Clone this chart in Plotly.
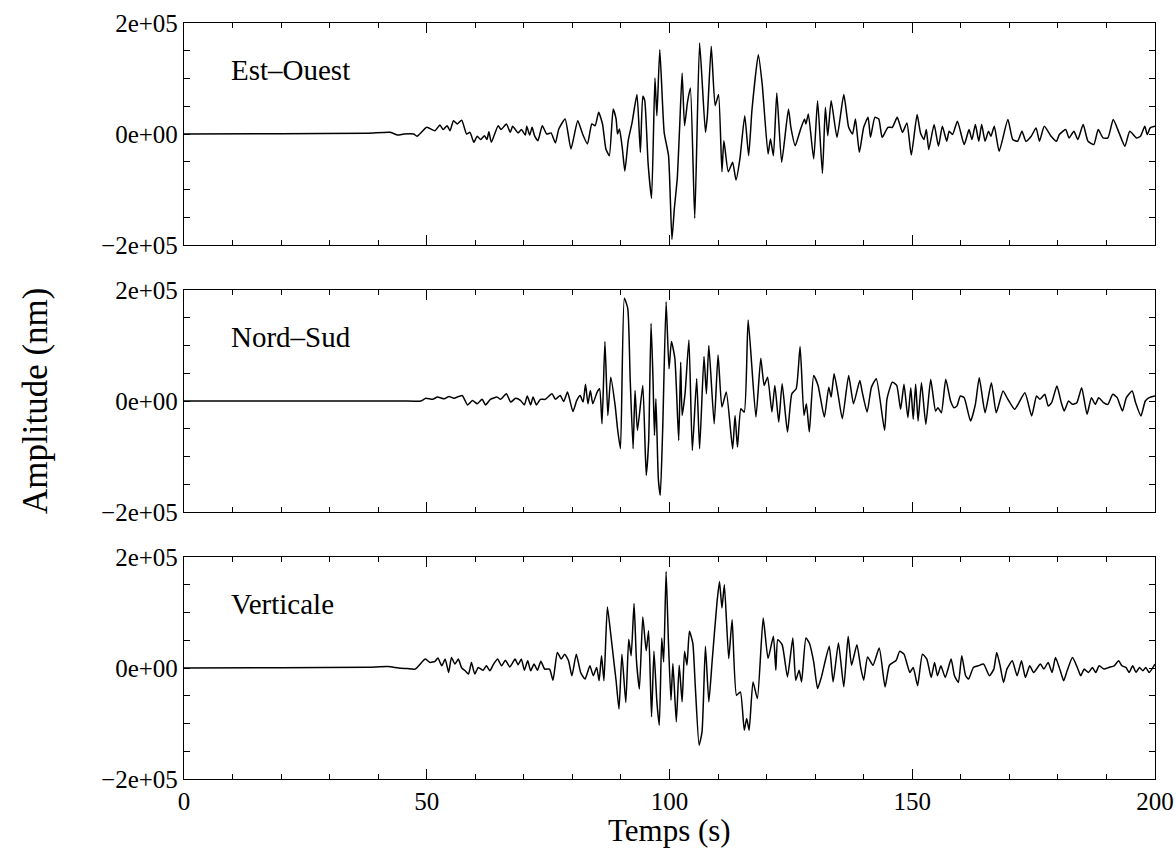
import plotly.graph_objects as go
from plotly.subplots import make_subplots

# ---------------- data (time in s, amplitude in thousands of nm) ----------------
eo_t = [0, 20, 38, 42.5, 44, 45.3, 47.3, 48, 50, 51.7, 52.7, 53.4, 54.2, 54.8, 55.5, 56.3, 57.2, 58.2, 58.9, 59.7,
        60.4, 61.1, 61.9, 62.4, 62.8, 63.3, 64.7, 65.3, 66.4, 67.2, 67.7, 68.8, 69.5, 70.3, 70.6, 71.2, 71.7, 72.2,
        72.9, 73.8, 74.7, 75.6, 76.5, 77.2, 78.5, 79.7, 81.1, 82.1, 83.1, 84.0, 84.7, 85.4, 86.2, 86.9, 87.6, 88.4,
        89.0, 89.3, 89.7, 90.3, 90.8, 91.5, 92.3, 93.3, 94.0, 94.5, 94.9, 95.6, 96.3, 97.0, 97.4, 98.0, 98.9, 99.8,
        100.5, 101.0, 101.6, 102.1, 102.6, 103.1, 103.7, 104.3, 105.2, 106.2, 107.4, 107.8, 108.6, 109.4, 110.1,
        110.8, 111.2, 112.1, 113.0, 113.7, 114.5, 115.5, 116.3, 117.0, 118.3, 119.1, 120.3, 120.8, 121.4, 122.1,
        123.1, 124.5, 125.0, 125.9, 126.9, 127.8, 128.1, 128.6, 129.7, 130.5, 131.5, 132.1, 132.6, 133.3, 134.5,
        135.9, 136.9, 137.7, 138.3, 139.1, 140.0, 140.9, 141.4, 142.3, 143.1, 143.8, 145.0, 145.9, 146.9, 148.0,
        148.9, 149.8, 151.0, 151.7, 152.4, 152.9, 153.4, 154.5, 155.4, 156.2, 157.1, 157.6, 158.3, 159.3, 160.7,
        161.7, 162.3, 163.0, 163.7, 164.3, 165.0, 165.7, 166.2, 166.9, 167.9, 169.7, 170.7, 171.7, 172.6, 173.4,
        174.5, 175.5, 176.2, 177.2, 178.6, 179.7, 180.3, 181.6, 182.3, 183.3, 184.1, 185.2, 186.2, 187.4, 188.3,
        189.3, 190.3, 191.4, 192.6, 193.8, 194.8, 196.2, 197.0, 197.9, 198.4, 199.0, 200]
eo_v = [0, 0.5, 1.5, 3, -2, 0, 0, -4, 12, 6, 16, 8, 15, 6, 24, 18, 25, 0, 3, -15,
        -4, -10, -3, -10, 4, -15, 15, 8, 18, 3, 14, 2, 8, -2, 14, -2, 12, -3,
        -12, 15, 0, 2, -16, 9, 27, -27, 24, 0, -18, 18, 15, 39, 18, -27, -39, 45,
        27, 0, 9, -27, -67, -12, 21, 71, -33, 68, 60, -54, -116, 101, 33, 152, 3, -39,
        -190, -134, -80, 15, 110, 15, 57, 83, -152, 164, 3, 33, 158, 51, 71,
        -68, -12, -68, -51, -83, -45, 33, -39, 45, 143, 89, -36, -9, -39, 74,
        -51, 45, 12, -21, 6, 27, 18, 36, -45, 60, -71, 48, -3, 60, -6,
        71, 12, 0, 27, -33, 12, 30, -6, 30, 27, -6, 12, 12, 30, 3,
        20, -38, 35, 2, -10, 8, -28, 17, -22, 14, -13, 5, -1, 23, -19,
        8, -10, 17, -13, 17, -13, 5, -4, 14, -31, 26, -10, -13, 5, -13,
        -4, 11, -13, 14, -4, -13, -1, 8, -7, 5, -10, 17, -13, -19, 8,
        -7, -7, 26, 2, -22, 5, -7, -4, 14, -1, 11, 14]

ns_t = [0, 30, 44.7, 48.8, 49.8, 51.2, 52.2, 53.6, 54.6, 55.6, 57.3, 58.4, 59.4, 60.4, 61.4, 62.1, 63.1, 64.5,
        65.2, 66.4, 67.3, 68.3, 69.3, 70.1, 70.7, 71.4, 71.9, 72.6, 73.4, 74.4, 75.8, 76.5, 77.5, 78.2, 79.0,
        80.1, 80.9, 81.6, 82.2, 82.7, 83.2, 83.7, 84.2, 85.1, 85.6, 86.1, 86.7, 87.3, 87.9, 88.8, 89.3, 89.9,
        90.7, 91.4, 91.9, 92.5, 92.9, 93.4, 94.5, 95.2, 95.7, 96.2, 96.6, 96.9, 97.2, 97.7, 98.1, 98.6, 99.3,
        99.9, 100.4, 101.1, 101.9, 102.3, 102.6, 103.2, 104.0, 104.7, 105.6, 106.2, 107.1, 107.6, 108.1, 109.2,
        110.0, 110.8, 111.7, 113.0, 113.5, 114.0, 114.7, 115.4, 116.2, 117.8, 118.8, 119.5, 120.2, 121.1, 121.7,
        122.5, 123.2, 124.3, 125.2, 126.1, 126.9, 127.7, 128.2, 128.8, 129.7, 130.6, 131.9, 132.8, 133.3, 133.9,
        134.7, 135.6, 136.9, 137.9, 139.2, 139.7, 140.7, 141.6, 142.6, 144.3, 144.8, 145.9, 146.8, 147.6, 148.3,
        149.1, 149.7, 150.2, 150.7, 151.2, 151.9, 152.8, 153.8, 154.8, 155.3, 156.0, 156.9, 157.9, 158.6, 159.2,
        159.9, 160.7, 162.0, 163.0, 163.8, 165.0, 166.3, 167.3, 168.7, 169.7, 171.1, 173.2, 174.6, 175.6, 176.3,
        177.3, 178.0, 178.7, 179.8, 180.7, 181.3, 182.2, 183.0, 183.9, 184.9, 186.0, 186.9, 187.7, 188.4, 189.4,
        190.3, 191.3, 192.2, 193.3, 194.1, 195.3, 196.0, 197.1, 198.0, 198.8, 200]
ns_v = [0, 0, 0, 0, 5, 3, 7, 4, 8, 5, 10, -7, 1, -5, 3, -7, 3, 7,
        3, 13, -2, 5, 1, -7, 9, -7, 7, -7, 3, 3, 13, 3, 10, -1, 16,
        -19, 1, 10, -2, 30, -5, 19, -5, 16, 22, -41, 107, -26, 43, -8, -50, -86,
        185, 167, 40, -86, 19, -53, 28, -134, -74, 140, 40, -62, 4, -140, -170, -50, 179,
        58, 107, 77, -71, 70, -26, 13, 110, -89, 40, -86, 80, 13, 100, -41,
        83, -11, 16, -86, -26, -83, -14, -20, 146, -29, 77, 28, 43, -20, 28,
        -38, 31, -56, 13, 22, 98, -26, -5, -56, 46, 28, -29, 25, 7, 49,
        13, -32, 46, -5, 37, 16, -20, 25, 40, -53, 4, 34, 28, -15, 30,
        -30, 24, -33, 30, -36, 33, -42, 39, -18, -12, -21, 39, 0, -12, -9,
        9, 6, -36, -6, 42, -21, 33, -21, 18, 3, -15, 15, -27, 9, 3,
        12, -9, -3, 27, -3, -18, 0, -6, -3, 24, -24, 6, -6, 6, -3,
        -6, 12, 6, -18, 6, 18, -3, -27, 0, 6, 9]

ve_t = [0, 20, 38, 42, 44.2, 46, 47.6, 49.7, 50.7, 51.7, 52.3, 53.1, 53.8, 54.5, 55.1, 55.8, 56.5, 57.2, 57.9,
        58.6, 59.2, 59.9, 60.6, 61.6, 62.3, 63.0, 63.7, 64.6, 65.4, 66.2, 67.1, 68.2, 68.8, 69.5, 70.1, 70.8,
        71.4, 72.1, 72.8, 73.5, 74.3, 75.3, 76.0, 76.9, 77.7, 78.4, 79.2, 79.9, 80.8, 81.7, 82.6, 83.6, 84.3,
        85.0, 85.5, 86.0, 86.5, 87.2, 87.9, 88.6, 89.0, 89.6, 90.2, 91.0, 91.6, 92.1, 92.7, 93.2, 93.8, 94.5,
        95.2, 95.7, 96.3, 96.8, 97.4, 97.9, 98.4, 98.8, 99.3, 99.8, 100.3, 100.7, 101.4, 102.0, 102.6, 103.1,
        103.6, 104.1, 104.8, 105.3, 106.1, 106.7, 107.4, 108.1, 108.8, 109.8, 110.3, 110.8, 111.3, 112.2, 112.9,
        113.8, 114.6, 115.4, 115.9, 116.4, 117.2, 118.1, 119.3, 120.3, 121.4, 121.9, 122.3, 123.2, 124.3, 125.4,
        126.0, 126.7, 127.2, 128.1, 128.8, 129.7, 130.5, 131.3, 132.9, 133.7, 134.8, 135.9, 136.8, 137.5, 138.6,
        139.4, 140.0, 140.8, 141.9, 143.2, 144.4, 145.3, 146.7, 147.4, 148.3, 149.0, 149.5, 150.2, 151.1, 152.1,
        153.0, 153.9, 154.6, 155.2, 155.9, 156.8, 158.0, 158.7, 159.5, 160.2, 161.0, 161.6, 162.6, 163.6, 164.7,
        165.9, 166.8, 167.4, 168.1, 168.8, 169.5, 170.6, 171.6, 172.5, 173.3, 174.2, 175.0, 176.4, 177.1, 178.0,
        178.8, 179.5, 180.5, 181.2, 181.9, 183.0, 184.0, 184.7, 185.4, 186.3, 187.1, 187.8, 188.5, 189.5, 190.5,
        191.6, 192.5, 193.2, 194.0, 194.7, 195.4, 196.1, 196.8, 197.5, 198.1, 198.8, 200]
ve_v = [0, 0.5, 1.5, 2.5, 0, -1, -2, 16, 10, 12, 18, 4, 16, -8, 19, 7, 16, 0, -5,
        -11, 10, -11, 1, -4, 4, -5, 6, 16, 4, 14, 2, 16, 6, 16, -4, 13,
        -5, 7, -4, 12, -2, -2, -22, 28, 16, 25, 13, -14, 25, -8, -20, 4, -14,
        1, -23, 22, -23, 110, 61, 7, -23, -74, 25, -62, 52, 22, 116, 13, -38, 92,
        31, 67, -88, 30, -61, -103, 54, 11, 174, 42, -58, 8, -97, 5, -61, 30,
        5, 66, 45, -31, -139, -115, 39, -61, 14, 120, 156, 108, 150, 17, 87,
        -49, -43, -112, -91, -112, -25, -55, 90, 17, 57, -4, 51, 42, -16, 54,
        -22, -4, -25, 54, 45, 11, -37, -16, 39, -25, 45, -34, 57, 5, 42,
        0, -22, 20, 5, 36, -34, 5, 14, 30, 25, 5, -8, 1, -32, 25,
        16, -17, 10, -14, 4, -17, 16, -14, -26, 22, -14, -20, 1, 4, 7,
        -14, -2, 28, 4, -26, -2, 13, -14, 13, -17, 4, -8, 7, -2, 10,
        -8, 19, -5, -23, -5, 19, 1, -14, -2, -8, 1, -8, 4, -2, 1,
        4, 13, 4, 1, -8, 4, -8, 1, -5, 1, -8, 7]

components = ["Est–Ouest", "Nord–Sud", "Verticale"]
series_t = [eo_t, ns_t, ve_t]
series_v = [eo_v, ns_v, ve_v]

x_major_ticks = [0, 50, 100, 150, 200]
y_tick_vals = [-200000, -150000, -100000, -50000, 0, 50000, 100000, 150000, 200000]
y_tick_text = ["−2e+05", "", "", "", "0e+00", "", "", "", "2e+05"]

# ---------------- figure ----------------
FONT = "Liberation Serif, Times New Roman, serif"
W, H = 1176, 850
L, R, T, B = 184, 21, 23, 71
plot_h = H - T - B
panel_px = [(23, 245), (290, 512), (557, 779)]  # top, bottom in pixels

fig = make_subplots(rows=3, cols=1, shared_xaxes=False)

for i, (t, v) in enumerate(zip(series_t, series_v)):
    fig.add_trace(go.Scatter(x=t, y=[a * 1000 for a in v], mode="lines",
                             line=dict(color="black", width=1.5, shape="spline", smoothing=0.5),
                             showlegend=False, hoverinfo="skip"), row=i + 1, col=1)

for i in range(3):
    top, bot = panel_px[i]
    d0 = (H - B - bot) / plot_h
    d1 = (H - B - top) / plot_h
    yname = "yaxis" if i == 0 else f"yaxis{i + 1}"
    xname = "xaxis" if i == 0 else f"xaxis{i + 1}"
    fig.layout[yname].update(
        domain=[d0, d1], range=[-200000, 200000], tickmode="array", automargin=False,
        tickvals=y_tick_vals, ticktext=y_tick_text, ticks="inside", ticklen=6,
        tickcolor="black", tickwidth=1, showline=True, linecolor="black", linewidth=1.3,
        mirror="allticks", showgrid=False, zeroline=False,
        tickfont=dict(family=FONT, size=25, color="black"))
    fig.layout[xname].update(
        range=[0, 200], tickmode="array", tickvals=x_major_ticks, ticks="inside", ticklen=10,
        automargin=False,
        tickcolor="black", tickwidth=1, showline=True, linecolor="black", linewidth=1.3,
        mirror="allticks", showgrid=False, zeroline=False, showticklabels=(i == 2),
        minor=dict(tickmode="linear", tick0=0, dtick=10, ticks="inside", ticklen=5,
                   tickcolor="black", tickwidth=1, showgrid=False),
        tickfont=dict(family=FONT, size=25, color="black"))
    fig.add_annotation(x=9.3, y=115000, xref=f"x{i + 1}" if i else "x", yref=f"y{i + 1}" if i else "y",
                       text=components[i], showarrow=False, xanchor="left", yanchor="middle",
                       font=dict(family=FONT, size=29, color="black"))

fig.add_annotation(x=0.5, y=0, xref="paper", yref="paper", yshift=-51, text="Temps (s)",
                   showarrow=False, xanchor="center", yanchor="middle",
                   font=dict(family=FONT, size=31, color="black"))
fig.add_annotation(x=0, y=0.5, xref="paper", yref="paper", xshift=-149, text="Amplitude (nm)",
                   showarrow=False, textangle=-90, xanchor="center", yanchor="middle",
                   font=dict(family=FONT, size=35, color="black"))

fig.update_layout(width=W, height=H, margin=dict(l=L, r=R, t=T, b=B, autoexpand=False),
                  paper_bgcolor="white", plot_bgcolor="white",
                  font=dict(family=FONT, color="black"))

# remove the browser's default page margin so the figure sits at the window origin
fig.write_html("out.html", config={"displayModeBar": False},
               post_script="document.body.style.margin='0';")
